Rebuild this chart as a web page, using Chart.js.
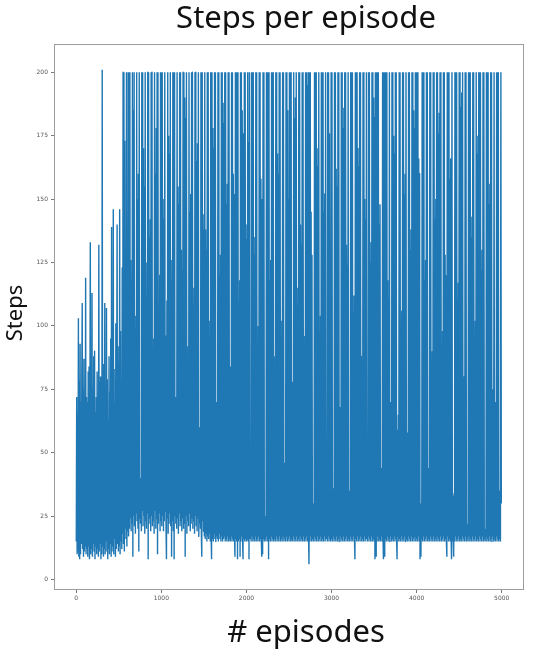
<!DOCTYPE html>
<html>
<head>
<meta charset="utf-8">
<script src="https://cdn.jsdelivr.net/npm/chart.js@4/dist/chart.umd.min.js"></script>
<style>
html,body{margin:0;padding:0;background:#fff;}
canvas{display:block;}
</style>
</head>
<body>
<canvas id="c" width="536" height="655"></canvas>
<script>
const chartTitle = "Steps per episode";
const xAxisTitle = "# episodes";
const yAxisTitle = "Steps";
const episodeStep = 5;
const xTickValues = [0, 1000, 2000, 3000, 4000, 5000];
const yTickValues = [0, 25, 50, 75, 100, 125, 150, 175, 200];

// steps per episode, one value every 5 episodes
const steps0to995 = [
15,72,10,65,11,103,9,78,8,93,10,70,14,80,109,12,75,9,87,11,66,13,119,10,72,
12,70,9,82,13,84,8,61,133,10,77,12,113,9,75,14,88,11,90,8,66,13,72,10,82,
12,64,9,132,11,78,14,80,8,71,10,201,13,76,9,85,12,109,10,68,15,107,11,79,8,
63,12,88,10,74,14,95,9,139,11,74,13,146,10,83,16,70,9,101,12,77,140,14,92,11,
86,13,146,10,98,15,71,12,123,18,200,14,200,11,173,20,88,16,200,13,122,19,200,17,200,
20,200,24,126,19,118,22,200,9,185,25,200,21,98,18,104,26,200,23,150,20,160,11,200,24,
38,22,40,19,200,27,200,21,170,25,155,18,200,23,112,20,125,26,200,8,200,22,135,24,142,
19,200,25,200,21,88,23,95,18,200,27,160,20,178,24,200,10,200,22,105,26,120,19,200,23
];
const steps1000to1995 = [
200,21,200,25,142,19,150,23,200,27,96,20,8,110,24,200,18,175,22,168,26,200,21,118,9,
126,23,200,19,200,8,200,25,64,22,72,20,200,24,155,18,148,26,200,21,200,23,130,19,122,
24,200,20,200,22,190,9,182,25,200,18,84,23,92,21,200,26,145,19,152,22,200,24,200,20,
108,23,115,18,200,25,200,21,165,19,172,24,200,17,52,22,60,20,200,18,9,200,23,138,19,
144,17,200,16,138,18,130,15,200,17,200,16,95,18,102,15,200,17,8,200,16,178,15,170,18,
200,16,200,15,62,17,70,16,200,15,200,18,120,16,128,15,200,17,200,15,188,16,180,17,200,
15,200,16,148,15,156,17,200,15,200,16,76,15,84,17,200,15,200,16,160,15,152,17,9,200,
16,200,15,200,8,200,15,110,16,118,9,200,15,200,17,185,15,8,176,16,200,15,200,16,134
];
const steps2000to2995 = [
15,140,16,200,15,172,8,200,30,16,29,15,200,17,200,15,200,16,135,15,128,17,200,15,200,
16,92,15,100,17,200,15,200,16,158,15,9,150,10,200,16,200,15,24,16,25,15,200,17,200,
15,200,8,200,16,118,15,126,17,200,15,200,16,200,15,80,16,88,15,200,17,200,15,168,16,
160,15,200,17,200,15,102,16,96,15,200,17,200,15,44,16,46,15,200,17,200,15,185,16,150,
15,200,17,200,15,200,16,70,15,78,17,200,15,182,16,190,15,200,17,115,15,108,16,200,15,
200,17,140,15,132,16,200,15,200,17,88,15,96,16,200,15,200,17,195,15,200,16,6,200,15,
200,17,145,15,128,16,28,15,30,17,200,15,200,16,200,15,163,17,170,15,200,16,97,15,104,
17,200,15,200,16,200,15,145,17,152,15,200,34,16,36,15,200,17,200,15,176,16,120,15,200
];
const steps3000to3995 = [
16,200,15,34,17,36,15,200,16,200,15,162,17,155,15,200,16,200,15,60,17,68,15,200,16,
200,15,178,17,186,15,200,16,200,15,132,17,124,15,200,16,33,15,35,17,200,15,200,16,200,
15,105,17,112,15,8,200,16,200,15,200,17,170,15,163,16,200,15,200,17,88,15,80,16,200,
15,200,17,150,15,142,16,200,39,15,40,17,200,15,200,16,125,15,133,17,200,15,200,16,190,
15,182,8,200,16,9,200,15,200,17,200,15,140,16,148,15,43,17,44,15,200,16,8,200,15,
9,200,16,200,15,200,17,118,15,110,16,200,15,63,17,70,15,200,16,200,15,175,17,168,15,
200,16,200,15,8,59,17,65,15,200,16,200,15,98,17,106,15,200,16,200,15,152,17,160,15,
200,16,52,15,58,17,200,15,200,16,130,15,138,17,200,15,200,16,185,15,178,17,200,15,200
];
const steps4000to4995 = [
16,200,15,200,17,166,15,160,8,29,9,30,16,200,15,200,17,200,15,118,16,126,15,200,17,
200,15,42,16,44,15,200,17,200,15,83,16,90,15,200,17,200,15,142,16,150,15,200,17,200,
15,176,16,184,15,200,17,200,15,90,16,98,15,200,17,200,15,128,16,120,15,9,200,17,200,
15,200,16,158,15,166,17,8,200,15,33,16,9,34,15,200,17,200,15,200,16,110,15,117,17,
200,15,200,16,186,15,192,17,200,15,72,16,80,15,200,17,200,15,21,16,22,15,200,17,200,
15,200,16,135,15,143,17,200,15,200,16,95,15,102,17,200,15,168,16,175,15,200,17,200,15,
200,16,122,15,130,17,200,15,200,16,19,15,20,17,200,15,200,16,200,15,148,17,156,15,200,
16,200,15,68,17,75,15,200,16,70,15,64,17,200,15,200,16,200,15,33,16,35,15,200,30
];

const stepsAll = [].concat(steps0to995, steps1000to1995, steps2000to2995, steps3000to3995, steps4000to4995);
const points = stepsAll.map((v, i) => ({ x: i * episodeStep, y: v }));

const decor = {
  id: 'decor',
  afterDraw(chart) {
    const ctx = chart.ctx, a = chart.chartArea;
    ctx.save();
    ctx.strokeStyle = '#9c9c9c';
    ctx.lineWidth = 1;
    const l = Math.round(a.left) - 0.5, t = Math.round(a.top) - 0.5;
    const r = Math.round(a.right) + 0.5, b = Math.round(a.bottom) + 0.5;
    ctx.strokeRect(l, t, r - l, b - t);
    ctx.fillStyle = '#111';
    ctx.textAlign = 'center';
    ctx.textBaseline = 'alphabetic';
    ctx.font = '31px "Noto Sans"';
    ctx.fillText(chartTitle, 306, 28);
    ctx.fillText(xAxisTitle, 306, 642);
    ctx.translate(22, 313);
    ctx.rotate(-Math.PI / 2);
    ctx.font = '22px "Noto Sans"';
    ctx.fillText(yAxisTitle, 0, 0);
    ctx.restore();
  }
};

const tickFont = { size: 6, family: '"DejaVu Sans"' };

new Chart(document.getElementById('c'), {
  type: 'line',
  data: {
    datasets: [{
      data: points,
      borderColor: '#1f77b4',
      borderWidth: 1.4,
      borderJoinStyle: 'bevel',
      pointRadius: 0,
      tension: 0.001,
      fill: false
    }]
  },
  options: {
    responsive: false,
    animation: false,
    devicePixelRatio: 1,
    parsing: false,
    normalized: true,
    events: [],
    layout: { padding: { top: 45, right: 13, left: 0, bottom: 0 } },
    plugins: {
      legend: { display: false },
      tooltip: { enabled: false },
      title: { display: false }
    },
    scales: {
      x: {
        type: 'linear',
        min: -250,
        max: 5250,
        afterBuildTicks: s => { s.ticks = xTickValues.map(v => ({ value: v })); },
        afterFit: s => { s.height = 66; },
        ticks: { font: tickFont, color: '#555', padding: 2, maxRotation: 0, autoSkip: false, callback: v => String(v) },
        grid: { drawOnChartArea: false, drawTicks: true, tickLength: 4, tickColor: '#777' },
        border: { display: false }
      },
      y: {
        type: 'linear',
        min: -3.75,
        max: 210.75,
        afterBuildTicks: s => { s.ticks = yTickValues.map(v => ({ value: v })); },
        afterFit: s => { s.width = 55; },
        ticks: { font: tickFont, color: '#555', padding: 3, autoSkip: false, callback: v => String(v) },
        grid: { drawOnChartArea: false, drawTicks: true, tickLength: 4, tickColor: '#777' },
        border: { display: false }
      }
    }
  },
  plugins: [decor]
});
</script>
</body>
</html>
